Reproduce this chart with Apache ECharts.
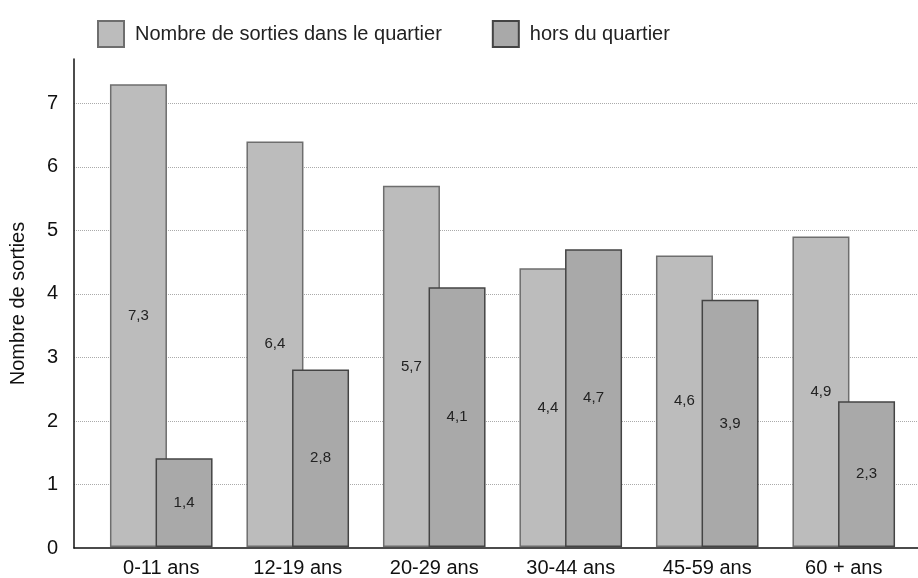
<!DOCTYPE html>
<html>
<head>
<meta charset="utf-8">
<script src="https://cdn.jsdelivr.net/npm/echarts@6/dist/echarts.min.js"></script>
<style>
  html, body { margin: 0; padding: 0; background: #fff; }
  #chart { width: 918px; height: 578px; }
</style>
</head>
<body>
<div id="chart"></div>
<script>
// catégories d'âge
const categories = ['0-11 ans', '12-19 ans', '20-29 ans', '30-44 ans', '45-59 ans', '60 + ans']
// sorties dans le quartier / hors du quartier
const dansQuartier = [7.3, 6.4, 5.7, 4.4, 4.6, 4.9]
const horsQuartier = [1.4, 2.8, 4.1, 4.7, 3.9, 2.3]
const seriesNames = ['Nombre de sorties dans le quartier', 'hors du quartier']

const font = 'Helvetica, Arial, "Liberation Sans", sans-serif'
const chart = echarts.init(document.getElementById('chart'))

const valueLabel = {
    show: true,
    position: 'inside',
    color: '#222',
    fontSize: 15,
    fontFamily: font,
    formatter: p => String(p.value).replace('.', ',')
}

chart.setOption({
    animation: false,
    legend: {
        left: 92,
        top: 15,
        itemWidth: 26,
        itemHeight: 26,
        itemGap: 50,
        icon: 'rect',
        data: seriesNames,
        textStyle: { fontSize: 20, color: '#222', fontFamily: font, padding: [0, 0, 0, 6] }
    },
    // grille 0 : axes et quadrillage, grille 1 : barres et étiquettes
    grid: [
        { left: 74, right: 0, top: 59, bottom: 30 },
        { left: 93, right: 6, top: 59, bottom: 30 }
    ],
    xAxis: [
        {
            type: 'category',
            gridIndex: 0,
            data: categories,
            axisLine: { lineStyle: { color: '#111', width: 1.5 } },
            axisTick: { show: false },
            axisLabel: { show: false }
        },
        {
            type: 'category',
            gridIndex: 1,
            data: categories,
            axisLine: { show: false },
            axisTick: { show: false },
            axisLabel: { color: '#111', fontSize: 20, fontFamily: font, margin: 11 }
        }
    ],
    yAxis: [
        {
            type: 'value',
            gridIndex: 0,
            min: 0,
            max: 7.7,
            interval: 1,
            name: 'Nombre de sorties',
            nameLocation: 'middle',
            nameGap: 46,
            nameTextStyle: { fontSize: 20, color: '#111', fontFamily: font },
            axisLine: { show: true, lineStyle: { color: '#111', width: 1.5 } },
            axisTick: { show: false },
            axisLabel: { color: '#111', fontSize: 20, fontFamily: font, margin: 16, showMaxLabel: false },
            splitLine: { showMaxLine: false, showMinLine: false, lineStyle: { color: '#aaa', type: 'dotted', width: 1 } }
        },
        {
            type: 'value',
            gridIndex: 1,
            min: 0,
            max: 7.7,
            interval: 1,
            show: false,
            splitLine: { show: false }
        }
    ],
    series: [
        {
            name: seriesNames[0],
            type: 'bar',
            xAxisIndex: 1,
            yAxisIndex: 1,
            data: dansQuartier,
            barWidth: 57,
            barGap: '-20%',
            itemStyle: { color: '#bcbcbc', borderColor: '#6e6e6e', borderWidth: 1.5 },
            label: valueLabel
        },
        {
            name: seriesNames[1],
            type: 'bar',
            xAxisIndex: 1,
            yAxisIndex: 1,
            data: horsQuartier,
            barWidth: 57,
            barGap: '-20%',
            itemStyle: { color: '#a9a9a9', borderColor: '#444', borderWidth: 1.5 },
            label: valueLabel
        }
    ]
})
</script>
</body>
</html>
